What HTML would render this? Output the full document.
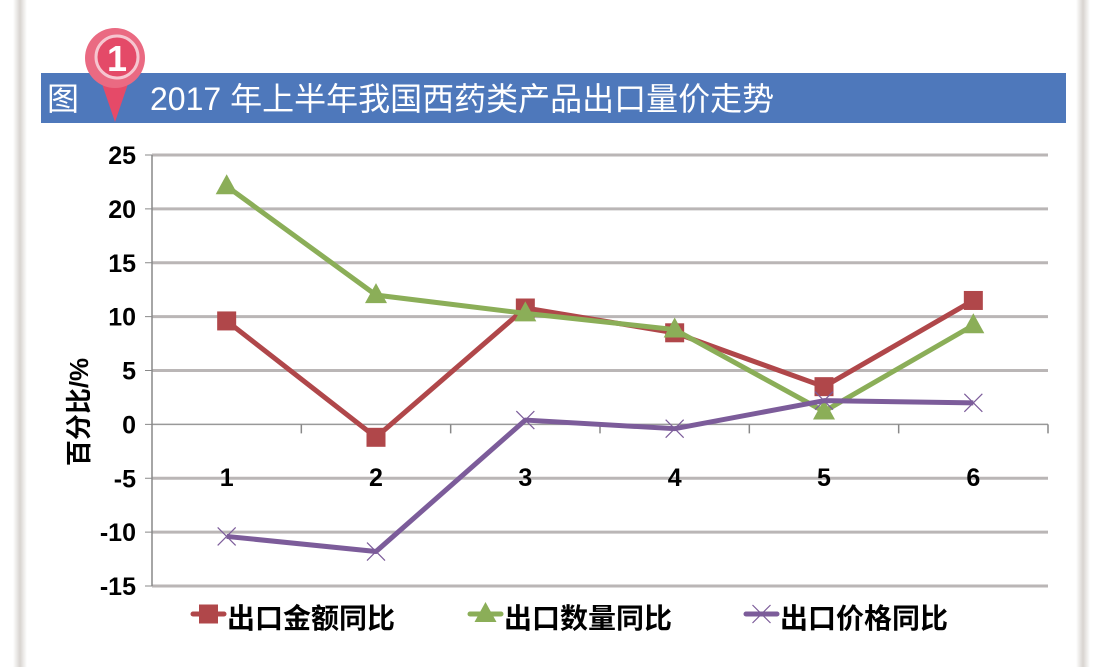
<!DOCTYPE html>
<html><head><meta charset="utf-8"><style>
body{margin:0;width:1108px;height:667px;background:#fff;overflow:hidden;font-family:"Liberation Sans","Noto Sans CJK SC",sans-serif}
</style></head><body>
<svg width="1108" height="667" xmlns="http://www.w3.org/2000/svg" style="position:absolute;left:0;top:0">
<defs>
<linearGradient id="side" x1="0" x2="1"><stop offset="0" stop-color="#fff"/><stop offset="0.5" stop-color="#d8d4d0"/><stop offset="1" stop-color="#fff"/></linearGradient>
</defs>
<rect x="13" y="0" width="14" height="667" fill="url(#side)"/>
<rect x="1076" y="0" width="14" height="667" fill="url(#side)"/>
<rect x="41" y="73" width="1025" height="50" fill="#4e78bb"/>
<text x="47" y="110" font-size="32" fill="#fff" font-family="Liberation Sans, Noto Sans CJK SC, sans-serif">图</text>
<g>
<path d="M100 78 L115 122 L130 78 Z" fill="#e54a68"/>
<circle cx="115" cy="58" r="30" fill="#ea6a82"/>
<circle cx="117" cy="57" r="21" fill="#e44a68" stroke="#f6c6d0" stroke-width="3"/>
<text x="117" y="71" font-size="36" font-weight="bold" fill="#fff" text-anchor="middle">1</text>
</g>
<text x="150" y="110" font-size="32" fill="#fff" font-family="Liberation Sans, Noto Sans CJK SC, sans-serif">2017 年上半年我国西药类产品出口量价走势</text>
<g id="plot"></g>
<text transform="translate(88,412) rotate(-90)" font-size="26" font-weight="bold" text-anchor="middle" fill="#000">百分比/%</text>
</svg>
<script>
const categories=["1","2","3","4","5","6"];
const amount=[9.6,-1.2,10.8,8.5,3.5,11.5];
const quantity=[22.1,12.0,10.3,8.8,1.2,9.2];
const price=[-10.4,-11.8,0.4,-0.4,2.2,2.0];
const yTicks=[25,20,15,10,5,0,-5,-10,-15];
const seriesNames=["出口金额同比","出口数量同比","出口价格同比"];

const NS="http://www.w3.org/2000/svg";
const g=document.getElementById('plot');
const x0=152,x1=1048,yTop=155,yBot=586,yMax=25,yMin=-15;
const yS=v=>yTop+(yMax-v)/(yMax-yMin)*(yBot-yTop);
const bw=(x1-x0)/categories.length;
const xS=i=>x0+bw*(i+0.5);
function el(t,a){const e=document.createElementNS(NS,t);for(const k in a)e.setAttribute(k,a[k]);g.appendChild(e);return e;}
yTicks.forEach(v=>{
  const y=yS(v);
  const l=el('line',{x1:x0,x2:x1,y1:y,y2:y,stroke:v===0?'#999':'#bab6b6','stroke-width':v===0?1.5:3});
  
  
  el('line',{x1:x0-7,x2:x0,y1:y,y2:y,stroke:'#888','stroke-width':1});
  const t=el('text',{x:136,y:y+9,'font-size':25,'font-weight':'bold','text-anchor':'end',fill:'#000'});
  t.textContent=v;
  
  
});
const ax=el('line',{x1:x0,x2:x0,y1:yTop,y2:yBot,stroke:'#888','stroke-width':1.5});


for(let i=1;i<=categories.length;i++){el('line',{x1:x0+bw*i,x2:x0+bw*i,y1:yS(0),y2:yS(0)+9,stroke:'#888','stroke-width':1.5});}
categories.forEach((c,i)=>{
  const t=el('text',{x:xS(i),y:486,'font-size':25,'font-weight':'bold','text-anchor':'middle',fill:'#000'});
  t.textContent=c;
  
  
});
const colors=['#b0474a','#8bae58','#7c5c9a'];
function marker(type,cx,cy,col){
  let m;
  if(type===0)m=el('rect',{x:cx-9.5,y:cy-9.5,width:19,height:19,fill:col});
  else if(type===1)m=el('path',{d:`M${cx} ${cy-12}L${cx+11} ${cy+8}L${cx-11} ${cy+8}Z`,fill:col});
  else m=el('path',{d:`M${cx-9} ${cy-9}L${cx+9} ${cy+9}M${cx+9} ${cy-9}L${cx-9} ${cy+9}`,stroke:col,'stroke-width':1.2,fill:'none'});
  return m;
}
[amount,quantity,price].forEach((arr,s)=>{
  const p=el('polyline',{points:arr.map((v,i)=>xS(i)+','+yS(v)).join(' '),fill:'none',stroke:colors[s],'stroke-width':5,'stroke-linejoin':'round'});
  
  
  arr.forEach((v,i)=>{
    const m=marker(s,xS(i),yS(v),colors[s]);
    
    
  });
});
const legX=[193,470,746];
seriesNames.forEach((n,s)=>{
  const y=617;
  const l=el('line',{x1:legX[s],x2:legX[s]+31,y1:y-3,y2:y-3,stroke:colors[s],'stroke-width':5,'stroke-linecap':'round'});
  
  
  marker(s,legX[s]+15.5,y-3,colors[s]);
  const t=el('text',{x:legX[s]+34,y:y+11,'font-size':28,'font-weight':'bold',fill:'#000'});
  t.textContent=n;
  
  
});
</script>
</body></html>
